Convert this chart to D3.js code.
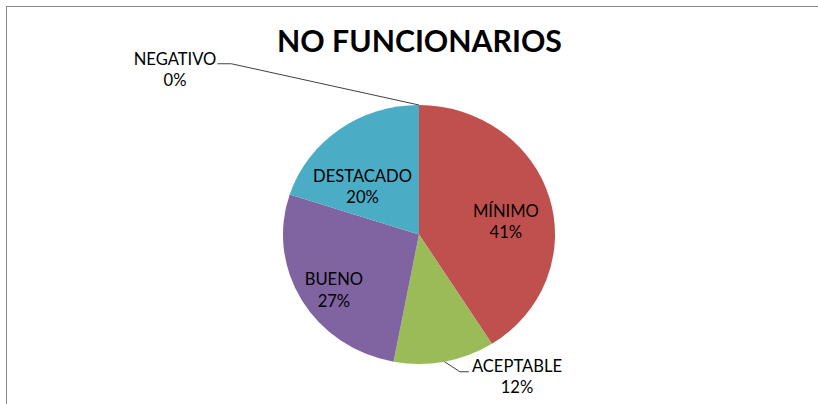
<!DOCTYPE html>
<html>
<head>
<meta charset="utf-8">
<script src="https://cdn.jsdelivr.net/npm/d3@7"></script>
<style>
  html, body { margin: 0; padding: 0; background: #fff; }
  svg { display: block; }
</style>
</head>
<body>
<svg id="chart" width="818" height="404"></svg>
<script>
// ---- data ----
const title = "NO FUNCIONARIOS";
const categories = ["MÍNIMO", "ACEPTABLE", "BUENO", "DESTACADO", "NEGATIVO"];
const values = [41, 12, 27, 20, 0];
const colors = ["#C0504D", "#9BBB59", "#8064A2", "#4BACC6", "#F79646"];

// ---- layout (not data) ----
const W = 818, H = 404;
const cx = 419, cy = 234.5, rx = 136, ry = 129.5;
const outside = [false, true, false, false, true];
// inside: shift from centroid at 0.65r; outside: shift from edge point
const labelShift = [[2, 11], [72.5, 15.3], [-9, 13], [-4.5, 20.6], [-244, -35]];
const fontFamily = "Lato, 'Open Sans', sans-serif";

const svg = d3.select("#chart");

// frame lines
svg.append("line").attr("x1", 7).attr("y1", 6.5).attr("x2", W).attr("y2", 6.5)
  .attr("stroke", "#868686").attr("stroke-width", 1);
svg.append("line").attr("x1", 6.5).attr("y1", 6).attr("x2", 6.5).attr("y2", H)
  .attr("stroke", "#868686").attr("stroke-width", 1);

// title, fitted to target width
const t = svg.append("text")
  .attr("x", cx + 0.5).attr("y", 51.7)
  .attr("text-anchor", "middle")
  .attr("font-family", fontFamily).attr("font-weight", "bold")
  .attr("font-size", 100).attr("fill", "#000")
  .text(title);
const tw = t.node().getComputedTextLength();
t.attr("font-size", 100 * 285 / tw);

// pie
const total = d3.sum(values);
const pie = d3.pie().sort(null).value(d => d).startAngle(0).endAngle(2 * Math.PI);
const arcs = pie(values);
const arc = d3.arc().innerRadius(0).outerRadius(rx);

const g = svg.append("g")
  .attr("transform", `translate(${cx},${cy}) scale(1,${ry / rx})`);
g.selectAll("path").data(arcs).join("path")
  .attr("d", arc)
  .attr("fill", (d, i) => colors[i]);

// labels
const pct = d3.format(".0%");
const probe = svg.append("text").attr("font-family", fontFamily).attr("font-size", 100).text("DESTACADO");
const labelSize = 100 * 99 / probe.node().getComputedTextLength();
probe.remove();

const labelG = svg.append("g");
arcs.forEach((d, i) => {
  const a = (d.startAngle + d.endAngle) / 2;
  let px, py;
  if (!outside[i]) {
    px = cx + 0.65 * rx * Math.sin(a);
    py = cy - 0.65 * ry * Math.cos(a);
  } else {
    px = cx + rx * Math.sin(a);
    py = cy - ry * Math.cos(a);
  }
  const lx = px + labelShift[i][0], ly = py + labelShift[i][1];
  const txt = labelG.append("text")
    .attr("font-family", fontFamily).attr("font-size", labelSize)
    .attr("fill", "#000").attr("text-anchor", "middle");
  txt.append("tspan").attr("x", lx).attr("y", ly - 5.25).text(categories[i]);
  txt.append("tspan").attr("x", lx).attr("y", ly + 16.25).text(pct(values[i] / total));

  if (outside[i]) {
    const bb = txt.node().getBBox();
    const base = ly - 5.25;
    let pts;
    if (lx > px) {
      pts = [[px, py], [bb.x - 12, base], [bb.x - 3, base]];
    } else {
      pts = [[px, py], [bb.x + bb.width + 15, base - 1], [bb.x + bb.width + 1, base - 1]];
    }
    labelG.append("path")
      .attr("d", d3.line()(pts))
      .attr("fill", "none").attr("stroke", "#404040").attr("stroke-width", 1);
  }
});
</script>
</body>
</html>
